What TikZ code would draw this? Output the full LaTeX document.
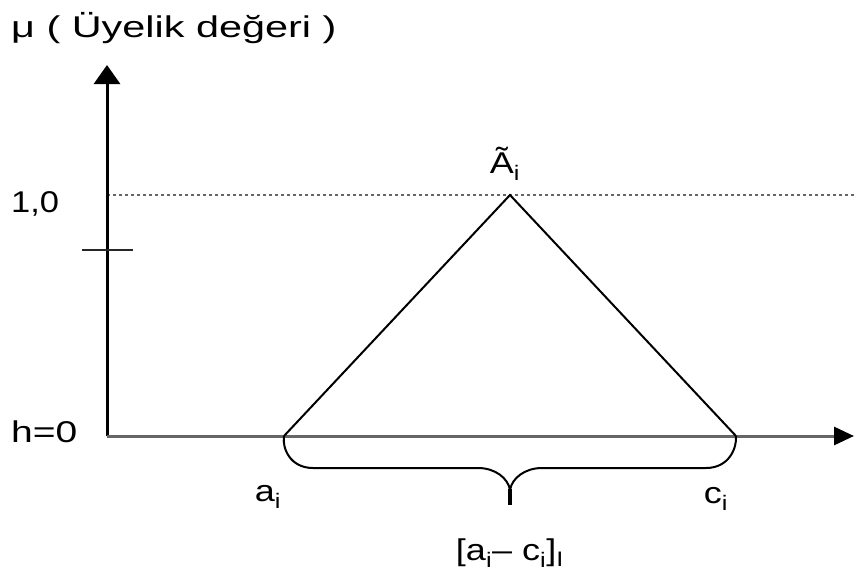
\documentclass[tikz,border=0pt]{standalone}
\usepackage{fontspec}
\setmainfont{Liberation Sans}
\usetikzlibrary{arrows.meta}
\newcommand{\wide}[2][1.2]{\scalebox{#1}[1]{#2}}
\begin{document}
\begin{tikzpicture}[x=1pt,y=-1pt,
  lbl/.style={inner sep=0pt, font=\fontsize{30}{34}\selectfont},
  axisline/.style={line width=3pt},
  tri/.style={line width=2pt, black},
  brace/.style={line width=2pt, black}]
\useasboundingbox (0,0) rectangle (854,578);
\coordinate (O) at (107,436);
\coordinate (ytop) at (107,65);
\coordinate (xend) at (854,436);
\coordinate (A) at (284,436);
\coordinate (P) at (510,195);
\coordinate (C) at (736,436);
\coordinate (dl) at (107,195);
\coordinate (dr) at (854,195);
\coordinate (tl) at (82,250);
\coordinate (tr) at (133,250);
% dotted line at 1,0
\draw[gray!80!black, line width=1.5pt, dash pattern=on 3pt off 3pt] (dl) -- (dr);
% axes
\draw[axisline, black, -{Triangle[length=19pt,width=26pt]}] (O) -- (ytop);
\draw[axisline, black!60, -{Triangle[length=20pt,width=18pt,color=black]}] (O) -- (xend);
\draw[line width=2.5pt, black!85] (tl) -- (tr);
% triangle
\draw[tri] (A) -- (P) -- (C);
% brace
\draw[brace] (A) .. controls (282,448) and (290,468) .. (313,468) -- (478,468)
  .. controls (495,468) and (508,478) .. (510,490)
  .. controls (512,478) and (525,468) .. (542,468) -- (706,468)
  .. controls (729,468) and (737,448) .. (C);
\draw[line width=4pt, black] (510,489) -- (510,505);
% labels
\node[lbl, anchor=west] (mu) at (11,28) {\wide[1.38]{μ ( Üyelik değeri )}};
\node[lbl, anchor=west] (one) at (11,204) {\wide[1.15]{1,0}};
\node[lbl, anchor=west] (h) at (11,432) {\wide[1.3]{h=0}};
\node[lbl] (Atil) at (505,164) {\wide{\~{A}\textsubscript{i}}};
\node[lbl] (ai) at (268,497) {\wide{a\textsubscript{i}}};
\node[lbl] (ci) at (716,499) {\wide{c\textsubscript{i}}};
\node[lbl] (int) at (510,553) {\wide{[a\textsubscript{i}– c\textsubscript{i}]\textsubscript{I}}};
\end{tikzpicture}
\end{document}
